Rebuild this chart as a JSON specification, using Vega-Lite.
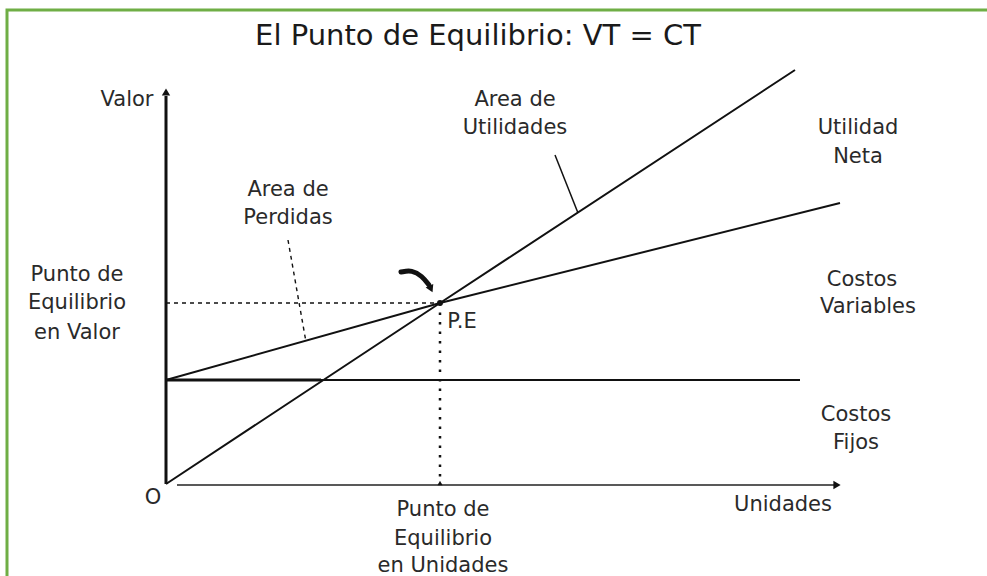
{
  "$schema": "https://vega.github.io/schema/vega-lite/v6.json",
  "width": 987,
  "height": 576,
  "autosize": {"type": "fit", "contains": "padding"},
  "padding": 0,
  "background": "white",
  "config": {"view": {"stroke": null}},
  "datasets": {
    "frame": [{"x": -15.9, "x2": 90, "y": 47.4, "y2": -15}],
    "axes": [
      {"seg": "Valor", "x": 0, "y": 0},
      {"seg": "Valor", "x": 0, "y": 38.8},
      {"seg": "Unidades", "x": 1.1, "y": -0.1},
      {"seg": "Unidades", "x": 66.8, "y": -0.1}
    ],
    "heads": [
      {"dir": "up", "x": 0, "y": 39.2},
      {"dir": "right", "x": 67.1, "y": -0.1},
      {"dir": "small", "x": 27.4, "y": 0.1}
    ],
    "costs": [
      {"seg": "Costos Fijos", "x": 0, "y": 10.4},
      {"seg": "Costos Fijos", "x": 63.4, "y": 10.4},
      {"seg": "Costo Total", "x": 0, "y": 10.4},
      {"seg": "Costo Total", "x": 27.4, "y": 18.1},
      {"seg": "Costo Total", "x": 67.4, "y": 28.1},
      {"seg": "Ventas Totales", "x": 0, "y": 0},
      {"seg": "Ventas Totales", "x": 27.4, "y": 18.1},
      {"seg": "Ventas Totales", "x": 62.9, "y": 41.4}
    ],
    "thick": [
      {"seg": "Costos Fijos (tramo)", "x": 0, "y": 10.4},
      {"seg": "Costos Fijos (tramo)", "x": 15.5, "y": 10.4}
    ],
    "pointers": [
      {"seg": "Utilidades", "x": 38.9, "y": 32.9},
      {"seg": "Utilidades", "x": 41.2, "y": 27.1}
    ],
    "dashed": [
      {"seg": "Perdidas", "x": 12.2, "y": 24.4},
      {"seg": "Perdidas", "x": 14.0, "y": 14.2},
      {"seg": "PE Valor", "x": 0, "y": 18.1},
      {"seg": "PE Valor", "x": 27.4, "y": 18.1}
    ],
    "dotted": [
      {"seg": "PE Unidades", "x": 27.4, "y": 18.1},
      {"seg": "PE Unidades", "x": 27.4, "y": -0.1}
    ],
    "curl": [
      {"o": 1, "x": 23.5, "y": 21.2},
      {"o": 2, "x": 24.6, "y": 21.4},
      {"o": 3, "x": 25.6, "y": 20.8},
      {"o": 4, "x": 26.3, "y": 19.9}
    ],
    "curlhead": [{"x": 26.5, "y": 19.5}],
    "pe": [{"x": 27.4, "y": 18.1}],
    "title": [{"x": 31.2, "y": 44.8, "label": "El Punto de Equilibrio: VT = CT"}],
    "labels": [
      {"x": -3.9, "y": 38.4, "label": "Valor"},
      {"x": 34.9, "y": 38.4, "label": "Area de"},
      {"x": 34.9, "y": 35.6, "label": "Utilidades"},
      {"x": 69.2, "y": 35.6, "label": "Utilidad"},
      {"x": 69.2, "y": 32.7, "label": "Neta"},
      {"x": 12.2, "y": 29.4, "label": "Area de"},
      {"x": 12.2, "y": 26.6, "label": "Perdidas"},
      {"x": -8.9, "y": 20.9, "label": "Punto de"},
      {"x": -8.9, "y": 18.1, "label": "Equilibrio"},
      {"x": -8.9, "y": 15.1, "label": "en Valor"},
      {"x": 69.6, "y": 20.4, "label": "Costos"},
      {"x": 70.2, "y": 17.7, "label": "Variables"},
      {"x": 29.6, "y": 16.2, "label": "P.E"},
      {"x": 69.0, "y": 6.9, "label": "Costos"},
      {"x": 69.0, "y": 4.1, "label": "Fijos"},
      {"x": -1.3, "y": -1.4, "label": "O"},
      {"x": 61.7, "y": -2.1, "label": "Unidades"},
      {"x": 27.7, "y": -2.6, "label": "Punto de"},
      {"x": 27.7, "y": -5.5, "label": "Equilibrio"},
      {"x": 27.7, "y": -8.2, "label": "en Unidades"}
    ]
  },
  "encoding": {
    "x": {"field": "x", "type": "quantitative", "scale": {"domain": [-16.6, 82.1], "nice": false, "zero": false}, "axis": null},
    "y": {"field": "y", "type": "quantitative", "scale": {"domain": [-9.2, 48.4], "nice": false, "zero": false}, "axis": null}
  },
  "layer": [
    {
      "data": {"name": "frame"},
      "mark": {"type": "rect", "fill": null, "stroke": "#6fae45", "strokeWidth": 3, "clip": true},
      "encoding": {"x2": {"field": "x2"}, "y2": {"field": "y2"}}
    },
    {
      "data": {"name": "dashed"},
      "mark": {"type": "line", "color": "#111", "strokeWidth": 1.4, "strokeDash": [4, 4]},
      "encoding": {"detail": {"field": "seg"}}
    },
    {
      "data": {"name": "dotted"},
      "mark": {"type": "line", "color": "#111", "strokeWidth": 2.5, "strokeDash": [2.5, 7]},
      "encoding": {"detail": {"field": "seg"}}
    },
    {
      "data": {"name": "costs"},
      "mark": {"type": "line", "color": "#111", "strokeWidth": 2},
      "encoding": {"detail": {"field": "seg"}}
    },
    {
      "data": {"name": "thick"},
      "mark": {"type": "line", "color": "#111", "strokeWidth": 3.2},
      "encoding": {"detail": {"field": "seg"}}
    },
    {
      "data": {"name": "pointers"},
      "mark": {"type": "line", "color": "#111", "strokeWidth": 1.5},
      "encoding": {"detail": {"field": "seg"}}
    },
    {
      "data": {"name": "axes"},
      "transform": [{"filter": "datum.seg == 'Valor'"}],
      "mark": {"type": "line", "color": "#111", "strokeWidth": 3},
      "encoding": {"detail": {"field": "seg"}}
    },
    {
      "data": {"name": "axes"},
      "transform": [{"filter": "datum.seg == 'Unidades'"}],
      "mark": {"type": "line", "color": "#222", "strokeWidth": 1.5},
      "encoding": {"detail": {"field": "seg"}}
    },
    {
      "data": {"name": "heads"},
      "transform": [{"filter": "datum.dir == 'up'"}],
      "mark": {"type": "point", "shape": "triangle-up", "filled": true, "color": "#111", "size": 70, "opacity": 1}
    },
    {
      "data": {"name": "heads"},
      "transform": [{"filter": "datum.dir == 'right'"}],
      "mark": {"type": "point", "shape": "triangle-right", "filled": true, "color": "#111", "size": 70, "opacity": 1}
    },
    {
      "data": {"name": "heads"},
      "transform": [{"filter": "datum.dir == 'small'"}],
      "mark": {"type": "point", "shape": "triangle-up", "filled": true, "color": "#111", "size": 25, "opacity": 1}
    },
    {
      "data": {"name": "pe"},
      "mark": {"type": "point", "shape": "circle", "filled": true, "color": "#111", "size": 35, "opacity": 1}
    },
    {
      "data": {"name": "curl"},
      "mark": {"type": "line", "color": "#111", "strokeWidth": 5, "interpolate": "basis", "strokeCap": "round"},
      "encoding": {"order": {"field": "o"}}
    },
    {
      "data": {"name": "curlhead"},
      "mark": {"type": "point", "shape": "triangle-down", "filled": true, "color": "#111", "size": 70, "angle": -25, "opacity": 1}
    },
    {
      "data": {"name": "title"},
      "mark": {"type": "text", "font": "DejaVu Sans", "fontSize": 29, "color": "#1a1a1a", "baseline": "middle", "align": "center"},
      "encoding": {"text": {"field": "label"}}
    },
    {
      "data": {"name": "labels"},
      "mark": {"type": "text", "font": "DejaVu Sans", "fontSize": 21, "color": "#2a2a2a", "baseline": "middle", "align": "center"},
      "encoding": {"text": {"field": "label"}}
    }
  ]
}
